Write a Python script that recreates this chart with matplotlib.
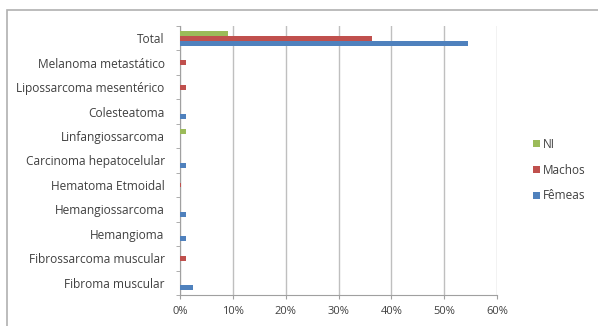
import matplotlib
matplotlib.use("Agg")
import matplotlib.pyplot as plt
from matplotlib.patches import Rectangle
import numpy as np

categorias = ["Fibroma muscular", "Fibrossarcoma muscular", "Hemangioma",
              "Hemangiossarcoma", "Hematoma Etmoidal", "Carcinoma hepatocelular",
              "Linfangiossarcoma", "Colesteatoma", "Lipossarcoma mesentérico",
              "Melanoma metastático", "Total"]
femeas = [2.4, 0, 1.2, 1.2, 0, 1.2, 0, 1.2, 0, 0, 54.5]
machos = [0, 1.2, 0, 0, 0.2, 0, 0, 0, 1.2, 1.2, 36.4]
ni = [0, 0, 0, 0, 0, 0, 1.2, 0, 0, 0, 9.1]
xticks = [0, 10, 20, 30, 40, 50, 60]

cor_ni = "#9BBB59"
cor_machos = "#C0504D"
cor_femeas = "#4F81BD"

plt.rcParams['font.family'] = ['Open Sans', 'DejaVu Sans']

fig = plt.figure(figsize=(5.98, 3.26), dpi=100)
fig.patches.append(Rectangle((7/598, -0.1), 1.2, (316/326) + 0.1, transform=fig.transFigure,
                             fill=False, edgecolor="#b0b0b0", linewidth=1.2))
ax = fig.add_axes([180/598, 31/326, 317/598, 269/326])

y = np.arange(len(categorias))
h = 0.2
b1 = ax.barh(y - h, femeas, height=h, color=cor_femeas, label="Fêmeas", zorder=3)
b2 = ax.barh(y, machos, height=h, color=cor_machos, label="Machos", zorder=3)
b3 = ax.barh(y + h, ni, height=h, color=cor_ni, label="NI", zorder=3)

ax.set_xlim(0, 60)
ax.set_ylim(-0.5, len(categorias) - 0.5)
ax.set_xticks(xticks)
ax.set_xticklabels([f"{v}%" for v in xticks], fontsize=8, color="#404040")
ax.set_yticks(y)
ax.set_yticklabels(categorias, fontsize=8.6, color="#404040")
ax.set_yticks(np.arange(-0.5, len(categorias), 1), minor=True)
ax.tick_params(axis="y", which="major", length=0, pad=11)
ax.tick_params(axis="y", which="minor", length=3, color="#a0a0a0")
ax.tick_params(axis="x", length=3, color="#a0a0a0", pad=5)
ax.grid(axis="x", color="#bfbfbf", linewidth=1, zorder=0)
for s in ["top", "right"]:
    ax.spines[s].set_visible(False)
for s in ["left", "bottom"]:
    ax.spines[s].set_color("#a0a0a0")

ax.legend(handles=[b3, b2, b1], loc="center left", bbox_to_anchor=(522/598, 156/326),
          bbox_transform=fig.transFigure, frameon=False, fontsize=8.5,
          handlelength=0.6, handleheight=0.6, handletextpad=0.3, labelspacing=1.1,
          labelcolor="#404040")

plt.savefig("out.png", dpi=100)
